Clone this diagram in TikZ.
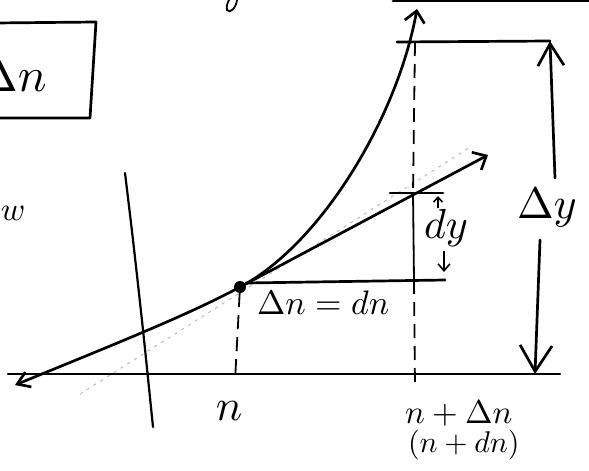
\documentclass[tikz,border=0pt]{standalone}
\usetikzlibrary{arrows.meta}
\begin{document}
\begin{tikzpicture}[x=1pt,y=-1pt,
  pen/.style={line width=2.7pt, line cap=round, line join=round},
  axis/.style={line width=2.2pt, line cap=round},
  dashline/.style={line width=1.8pt, dash pattern=on 14pt off 8pt},
  faint/.style={gray!55, line width=1pt, dash pattern=on 3pt off 5pt},
  smallbarb/.style={-{Straight Barb[length=11pt,width=20pt]}},
  bigbarb/.style={-{Straight Barb[length=26pt,width=32pt]}},
  lbl/.style={inner sep=0pt, outer sep=0pt}]
\useasboundingbox (0,0) rectangle (589,471);
% named points
\coordinate (cL) at (15,385);
\coordinate (p) at (240,287);
\coordinate (cT) at (417,9);
\coordinate (tE) at (488,155);
\coordinate (dyL) at (390,193);
\coordinate (dyR) at (443,193);
\coordinate (hL) at (246,283);
\coordinate (hR) at (445,280);
\coordinate (xL) at (8,374);
\coordinate (xR) at (560,374);
\coordinate (yT) at (125,173);
\coordinate (y1) at (133,240);
\coordinate (y2) at (143,330);
\coordinate (yB) at (153,427);
\coordinate (nA) at (235,381);
\coordinate (vT) at (415,42);
\coordinate (vM1) at (413,193);
\coordinate (vM2) at (414,280);
\coordinate (vB) at (415,388);
\coordinate (hT1) at (397,42);
\coordinate (hT2) at (550,41);
\coordinate (dY1) at (555,178);
\coordinate (dY2) at (540,240);
\coordinate (dY3) at (535,374);
\coordinate (bx1) at (-5,23);
\coordinate (bx2) at (96,22);
\coordinate (bx3) at (90,118);
\coordinate (bx4) at (-5,118);
\coordinate (tl1) at (393,1);
\coordinate (tl2) at (595,1);
\coordinate (s1) at (80,394);
\coordinate (s2) at (472,146);
\coordinate (ua1) at (438,208);
\coordinate (ua2) at (438,196);
\coordinate (da1) at (444,251);
\coordinate (da2) at (444,272);
% fragments at the borders
\draw[pen] (bx1) -- (bx2) -- (bx3) -- (bx4);
\draw[pen] (tl1) -- (tl2);
\draw[line width=1.8pt, line cap=round] (237,0) .. controls (236,8) and (230,14) .. (227,10) .. controls (226,6) and (228,2) .. (229,0);
% faint secant
\draw[faint] (s1) -- (s2);
% axes
\draw[axis] (xL) -- (xR);
\draw[axis] plot[smooth] coordinates {(yT) (y1) (y2) (yB)};
% curve
\draw[pen, {Straight Barb[length=12pt,width=16pt]}-{Straight Barb[length=11pt,width=20pt]}]
  (cL) .. controls (120,342) and (190,314) .. (p)
       .. controls (320,245) and (397,119) .. (cT);
% tangent
\draw[pen, smallbarb] (p) -- (tE);
\node[circle, fill, inner sep=0pt, minimum size=12pt] (P) at (p) {};
% dy tick and horizontal
\draw[pen] (dyL) -- (dyR);
\draw[pen] (hL) -- (hR);
% verticals
\draw[dashline] (P) -- (nA);
\draw[dashline] (vT) -- (vM1);
\draw[line width=1.8pt] (vM1) -- (vM2);
\draw[dashline] (vM2) -- (vB);
% Delta y
\draw[pen] (hT1) -- (hT2);
\draw[pen, -{Straight Barb[length=22pt,width=26pt]}] (dY1) -- (hT2);
\draw[pen, bigbarb] (dY2) -- (dY3);
% dy arrows
\draw[line width=1.6pt, -{Straight Barb[length=5pt,width=9pt]}] (ua1) -- (ua2);
\draw[line width=1.6pt, -{Straight Barb[length=7pt,width=12pt]}] (da1) -- (da2);
% labels
\node[lbl, anchor=base west, scale=4.8] (boxlbl) at (-22,91) {$\Delta n$};
\node[lbl, anchor=base west, scale=3.3] (wfrag) at (1,220) {$w$};
\node[lbl, anchor=base, scale=4.4] (nlbl) at (229,420) {$n$};
\node[lbl, anchor=base west, scale=3.3] (nd) at (405,423) {$n+\Delta n$};
\node[lbl, anchor=base west, scale=3] (ndn) at (408,452) {$(n+dn)$};
\node[lbl, anchor=base west, scale=3.4] (dxdn) at (257,314) {$\Delta n=dn$};
\node[lbl, anchor=base west, scale=4.2] (dy) at (424,238) {$dy$};
\node[lbl, anchor=base west, scale=4.4] (Dy) at (517,218) {$\Delta y$};
\end{tikzpicture}
\end{document}
